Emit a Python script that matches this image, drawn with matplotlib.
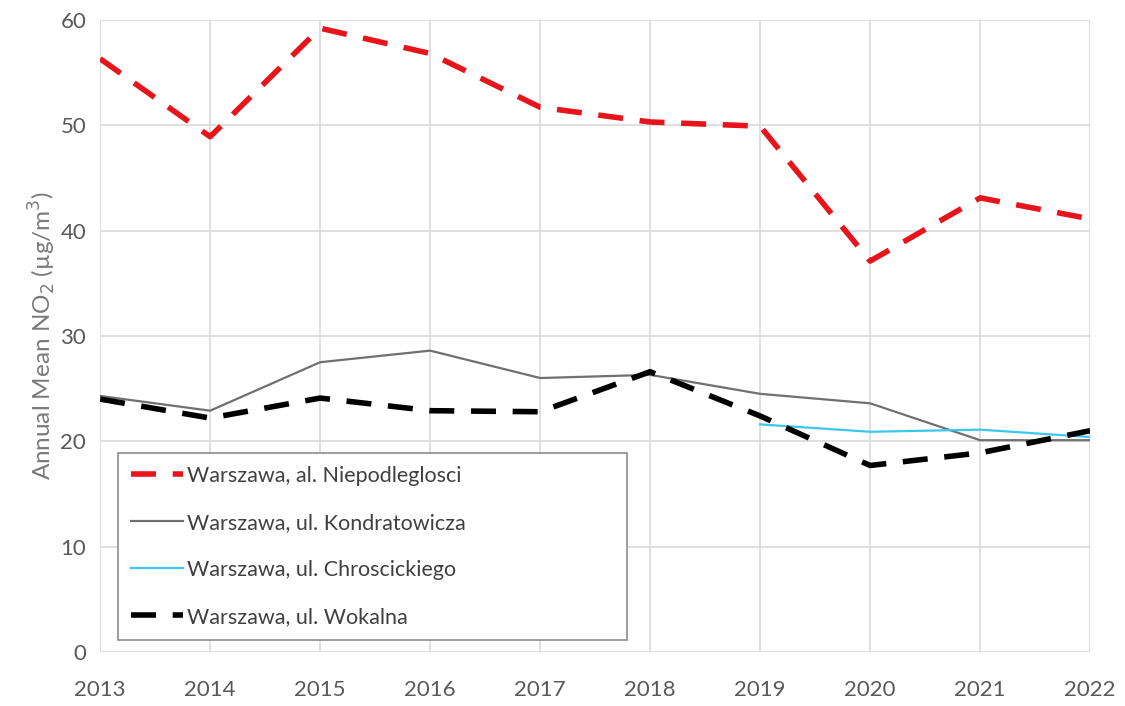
import numpy as np
import matplotlib.pyplot as plt

plt.rcParams['font.family'] = ['Lato', 'DejaVu Sans']

years = [2013, 2014, 2015, 2016, 2017, 2018, 2019, 2020, 2021, 2022]
niepodleglosci = [56.3, 48.9, 59.2, 56.8, 51.7, 50.3, 49.9, 37.1, 43.1, 41.1]
kondratowicza = [24.3, 22.9, 27.5, 28.6, 26.0, 26.3, 24.5, 23.6, 20.1, 20.1]
chroscickiego_years = [2019, 2020, 2021, 2022]
chroscickiego = [21.6, 20.9, 21.1, 20.4]
wokalna = [24.0, 22.2, 24.1, 22.9, 22.8, 26.6, 22.4, 17.7, 18.9, 21.0]

fig = plt.figure(figsize=(11.25, 7.06), dpi=100)
ax = fig.add_axes([0.089, 0.0765, 0.88, 0.8955])

ax.plot(years, niepodleglosci, color="#e8141b", lw=4, dashes=(4.5, 3),
        label="Warszawa, al. Niepodleglosci", zorder=3)
ax.plot(years, kondratowicza, color="#707070", lw=1.6,
        label="Warszawa, ul. Kondratowicza", zorder=3)
ax.plot(chroscickiego_years, chroscickiego, color="#3cc8ec", lw=1.6,
        label="Warszawa, ul. Chroscickiego", zorder=3)
ax.plot(years, wokalna, color="black", lw=4, dashes=(4.5, 3),
        label="Warszawa, ul. Wokalna", zorder=3)

ax.set_xlim(2013, 2022)
ax.set_ylim(0, 60)
ax.set_xticks(years)
ax.set_yticks(np.arange(0, 61, 10))
ax.grid(color="#d9d9d9", lw=1.2, zorder=0)
for s in ax.spines.values():
    s.set_visible(False)
ax.tick_params(length=0, labelsize=16, colors="#595959")
ax.tick_params(axis="x", pad=20)
ax.tick_params(axis="y", pad=10)
ax.set_ylabel("Annual Mean NO$_2$ (µg/m$^3$)", fontsize=17.5, color="#7a7a7a", labelpad=2)

leg = ax.legend(loc="lower left", bbox_to_anchor=(0.018, 0.019, 0.514, 0.293),
                mode="expand", borderaxespad=0, fontsize=15.5, handlelength=2.4,
                handletextpad=0.2, labelspacing=1.25, borderpad=0.62,
                fancybox=False, framealpha=1, labelcolor="#404040")
leg.get_frame().set_edgecolor("#8c8c8c")
leg.get_frame().set_linewidth(1.2)

plt.savefig("out.png", dpi=100)
